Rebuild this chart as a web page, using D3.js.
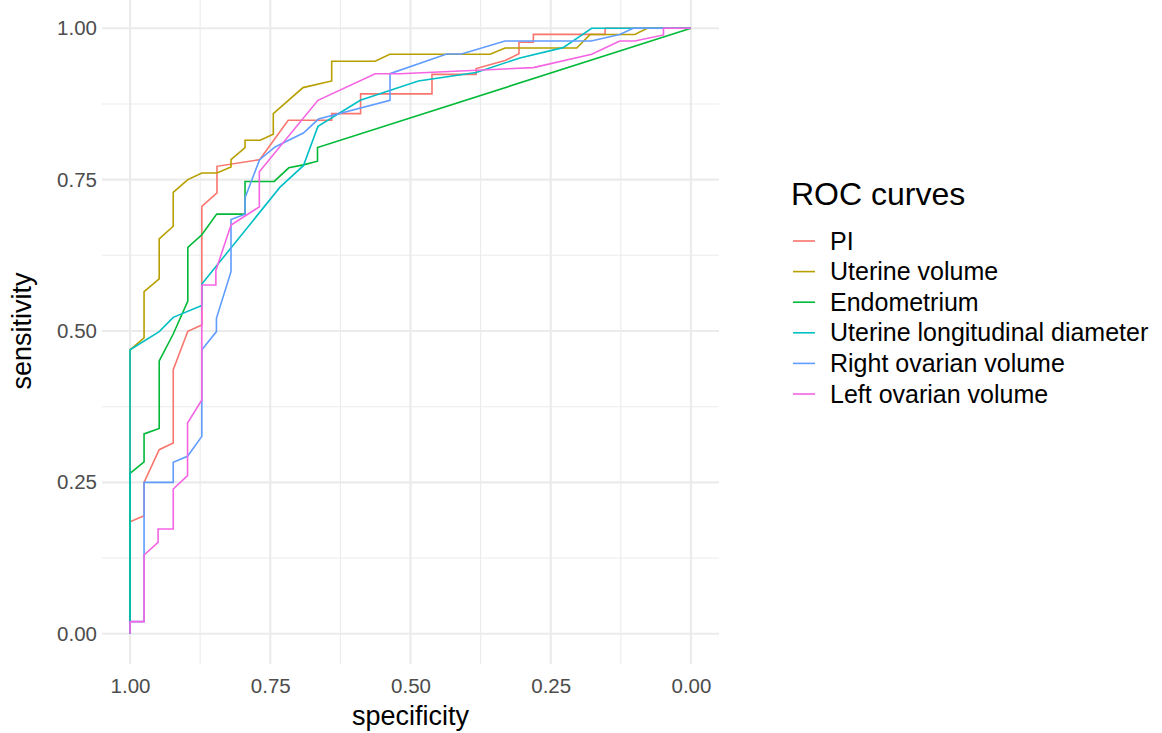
<!DOCTYPE html>
<html>
<head>
<meta charset="utf-8">
<style>
  body { margin: 0; background: #fff; }
  svg { display: block; }
  text { font-family: "Liberation Sans", Arial, sans-serif; }
</style>
</head>
<body>
<svg width="1162" height="733"></svg>

<script src="https://d3js.org/d3.v7.min.js"></script>
<script>

	// ROC curves, points are [specificity, sensitivity]
	const seriesNames = ["PI", "Uterine volume", "Endometrium", "Uterine longitudinal diameter", "Right ovarian volume", "Left ovarian volume"]
	const seriesColors = ["#F8766D", "#B79F00", "#00BA38", "#00BFC4", "#619CFF", "#F564E3"]

	const rocPI = [
		[1, 0], [1, 0.185], [0.975, 0.195], [0.975, 0.25], [0.948, 0.304], [0.923, 0.315], [0.923, 0.436],
		[0.897, 0.4995], [0.872, 0.51], [0.872, 0.706], [0.845, 0.728], [0.845, 0.772], [0.769, 0.783],
		[0.718, 0.848], [0.6405, 0.848], [0.6405, 0.859], [0.589, 0.859], [0.589, 0.8916], [0.4617, 0.8916],
		[0.4617, 0.9238], [0.383, 0.9238], [0.383, 0.9335], [0.3315, 0.9467], [0.3066, 0.958], [0.3066, 0.977],
		[0.281, 0.977], [0.281, 0.99], [0.153, 0.99], [0.153, 1], [0, 1]
	]
	const rocUterineVolume = [
		[1, 0], [1, 0.469], [0.975, 0.4885], [0.975, 0.565], [0.948, 0.586], [0.948, 0.652], [0.923, 0.673],
		[0.923, 0.729], [0.897, 0.75], [0.872, 0.761], [0.845, 0.761], [0.82, 0.771], [0.82, 0.783],
		[0.795, 0.803], [0.795, 0.815], [0.768, 0.815], [0.7446, 0.825], [0.7446, 0.859], [0.6916, 0.902],
		[0.6405, 0.913], [0.6405, 0.9455], [0.563, 0.9455], [0.537, 0.957], [0.358, 0.957], [0.3315, 0.9675],
		[0.2037, 0.9675], [0.18, 0.9896], [0.1, 0.9896], [0.078, 1], [0, 1]
	]
	const rocEndometrium = [
		[1, 0], [1, 0.265], [0.975, 0.284], [0.975, 0.33], [0.948, 0.339], [0.948, 0.4505], [0.923, 0.495],
		[0.897, 0.5495], [0.897, 0.638], [0.872, 0.659], [0.8455, 0.693], [0.795, 0.693], [0.795, 0.747],
		[0.743, 0.747], [0.717, 0.7695], [0.691, 0.7744], [0.6658, 0.7805], [0.6658, 0.803], [0, 1]
	]
	const rocUterineDiameter = [
		[1, 0], [1, 0.469], [0.948, 0.499], [0.923, 0.5226], [0.872, 0.542], [0.872, 0.5776],
		[0.7326, 0.7376], [0.691, 0.773], [0.665, 0.838], [0.5895, 0.881], [0.486, 0.913], [0.383, 0.927],
		[0.305, 0.951], [0.228, 0.968], [0.177, 1], [0, 1]
	]
	const rocRightOvary = [
		[1, 0], [1, 0.02], [0.975, 0.02], [0.975, 0.13], [0.975, 0.25], [0.923, 0.25], [0.923, 0.283],
		[0.8975, 0.293], [0.872, 0.326], [0.872, 0.469], [0.846, 0.499], [0.846, 0.521], [0.82, 0.598],
		[0.82, 0.684], [0.795, 0.693], [0.795, 0.72], [0.769, 0.783], [0.7415, 0.804], [0.691, 0.827],
		[0.664, 0.85], [0.5365, 0.881], [0.5365, 0.925], [0.4355, 0.9576], [0.409, 0.9576], [0.3315, 0.979],
		[0.178, 0.979], [0.127, 0.9896], [0.103, 1], [0, 1]
	]
	const rocLeftOvary = [
		[1, 0], [1, 0.02], [0.975, 0.02], [0.975, 0.13], [0.95, 0.151], [0.95, 0.173], [0.923, 0.173],
		[0.923, 0.239], [0.8975, 0.261], [0.8975, 0.348], [0.872, 0.386], [0.872, 0.576], [0.847, 0.576],
		[0.847, 0.6], [0.82, 0.675], [0.795, 0.69], [0.7695, 0.705], [0.7695, 0.763], [0.665, 0.881],
		[0.563, 0.925], [0.519, 0.925], [0.281, 0.935], [0.177, 0.957], [0.127, 0.979], [0.1, 0.979],
		[0.049, 0.989], [0.049, 1], [0, 1]
	]
	const seriesValues = [rocPI, rocUterineVolume, rocEndometrium, rocUterineDiameter, rocRightOvary, rocLeftOvary]

	const majorTicks = [0, 0.25, 0.5, 0.75, 1]
	const minorTicks = [0.125, 0.375, 0.625, 0.875]

	const panel = {left: 102, right: 719, top: -2, bottom: 664}

	const x = d3.scaleLinear().domain([1.05, -0.05]).range([panel.left, panel.right])
	const y = d3.scaleLinear().domain([-0.05, 1.05]).range([panel.bottom, panel.top])

	const svg = d3.select("svg")
	svg.append("rect").attr("width", 1162).attr("height", 733).attr("fill", "#fff")

	const grid = svg.append("g").attr("stroke", "#EBEBEB").attr("fill", "none")
	grid.selectAll(".minx").data(minorTicks).join("line")
		.attr("x1", d => x(d)).attr("x2", d => x(d))
		.attr("y1", panel.top).attr("y2", panel.bottom)
		.attr("stroke-width", 1.1)
	grid.selectAll(".miny").data(minorTicks).join("line")
		.attr("y1", d => y(d)).attr("y2", d => y(d))
		.attr("x1", panel.left).attr("x2", panel.right)
		.attr("stroke-width", 1.1)
	grid.selectAll(".majx").data(majorTicks).join("line")
		.attr("x1", d => x(d)).attr("x2", d => x(d))
		.attr("y1", panel.top).attr("y2", panel.bottom)
		.attr("stroke-width", 2.2)
	grid.selectAll(".majy").data(majorTicks).join("line")
		.attr("y1", d => y(d)).attr("y2", d => y(d))
		.attr("x1", panel.left).attr("x2", panel.right)
		.attr("stroke-width", 2.2)

	// axes (no ticks, no domain line, like theme_minimal)
	const fmt = d3.format(".2f")
	const xAxis = svg.append("g")
		.attr("transform", `translate(0,${panel.bottom})`)
		.call(d3.axisBottom(x).tickValues(majorTicks).tickFormat(fmt).tickSize(0).tickPadding(14))
	const yAxis = svg.append("g")
		.attr("transform", `translate(${panel.left},0)`)
		.call(d3.axisLeft(y).tickValues(majorTicks).tickFormat(fmt).tickSize(0).tickPadding(5))
	for (const ax of [xAxis, yAxis]) {
		ax.select(".domain").remove()
		ax.selectAll("text")
			.attr("fill", "#4D4D4D")
			.attr("font-size", 20.5)
			.attr("font-family", "Liberation Sans, Arial, sans-serif")
	}

	svg.append("text")
		.attr("x", x(0.5)).attr("y", 725)
		.attr("text-anchor", "middle")
		.attr("font-size", 27)
		.text("specificity")
	svg.append("text")
		.attr("transform", `translate(31,${y(0.5)}) rotate(-90)`)
		.attr("text-anchor", "middle")
		.attr("font-size", 27)
		.text("sensitivity")

	const line = d3.line().x(d => x(d[0])).y(d => y(d[1]))

	svg.append("g").selectAll("path")
		.data(seriesValues)
		.join("path")
			.attr("d", line)
			.attr("fill", "none")
			.attr("stroke", (d, i) => seriesColors[i])
			.attr("stroke-width", 1.6)

	// legend
	const legend = svg.append("g")
	legend.append("text")
		.attr("x", 791).attr("y", 205)
		.attr("font-size", 32)
		.text("ROC curves")

	const item = legend.selectAll(".item")
		.data(seriesNames)
		.join("g")
			.attr("transform", (d, i) => `translate(0,${241 + i * 30.6})`)
	item.append("line")
		.attr("x1", 793).attr("x2", 815)
		.attr("stroke", (d, i) => seriesColors[i])
		.attr("stroke-width", 1.6)
	item.append("text")
		.attr("x", 830).attr("y", 8.5)
		.attr("font-size", 25)
		.text(d => d)
</script>
</body>
</html>
